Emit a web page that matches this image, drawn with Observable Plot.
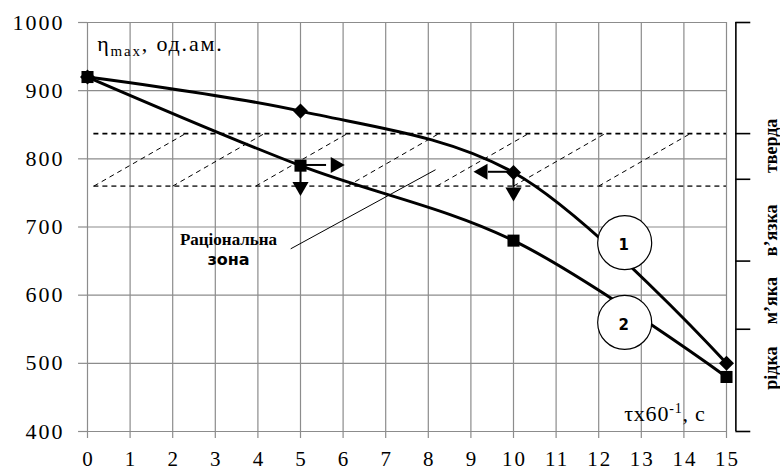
<!DOCTYPE html>
<html><head><meta charset="utf-8">
<script src="https://cdn.jsdelivr.net/npm/d3@7"></script>
<script src="https://cdn.jsdelivr.net/npm/@observablehq/plot@0.6"></script>
<style>
body{margin:0;background:#fff}
</style>
</head><body><div id="chart"></div>
<script>
// ---- data ----
const time = [0, 5, 10, 15];
const series1 = [920, 870, 780, 500];   // curve 1 (diamonds)
const series2 = [920, 790, 680, 480];   // curve 2 (squares)
const xTicks = [0,1,2,3,4,5,6,7,8,9,10,11,12,13,14,15];
const yTicks = [400,500,600,700,800,900,1000];
const zoneTop = 837;
const zoneBottom = 760;
const zoneStart = 0.15;
const zoneEnd = 15;
const hatchStarts = [0.15, 2, 3.95, 6.1, 8.2, 10, 12];
const hatchSpan = 2.15;
const consistencyTicks = [1000, 837, 770, 650, 550, 400];
const consistencyLabels = ["рідка", "м’яка", "в’язка", "тверда"];
const consistencyLabelY = [493, 592, 695, 819];
const curveLabels = ["1", "2"];
const curveLabelX = [12.61, 12.61];
const curveLabelY = [677, 560];
const zoneLabels = ["Раціональна", "зона"];

// ---- tables ----
const rows1 = time.map((t, i) => ({t, v: series1[i]}));
const rows2 = time.map((t, i) => ({t, v: series2[i]}));
const labelRows = curveLabels.map((l, i) => ({l, x: curveLabelX[i], y: curveLabelY[i]}));
const arrowLines = [
  {x1: 5, y1: 791, x2: 5.6, y2: 791},
  {x1: 5, y1: 791, x2: 5, y2: 766},
  {x1: 10, y1: 781, x2: 9.4, y2: 781},
  {x1: 10, y1: 781, x2: 10, y2: 758}
];
const arrowHeads = [
  {x: 5.82, y: 791, r: 90},
  {x: 5, y: 759, r: 180},
  {x: 9.28, y: 781, r: 270},
  {x: 10, y: 751, r: 180}
];
const bracketX = 15.22, bracketTickEnd = 15.57, bracketLabelX = 16.04;
const SERIF = "Liberation Serif";
const SANS = "DejaVu Sans";
const GRID = "#8c8c8c";
const yMin = yTicks[0], xMin = xTicks[0];

const plot = Plot.plot({
  width: 780, height: 470,
  marginLeft: 87, marginRight: 54, marginTop: 22, marginBottom: 39,
  x: {domain: [0, 15], axis: null},
  y: {domain: [400, 1000], axis: null},
  style: {background: "#fff", color: "#000", overflow: "visible", fontFamily: SERIF},
  marks: [
    Plot.gridX(xTicks, {stroke: GRID, strokeOpacity: 1, strokeWidth: 1.2}),
    Plot.gridY(yTicks, {stroke: GRID, strokeOpacity: 1, strokeWidth: 1.2}),
    // tick marks & labels
    Plot.ruleX(xTicks, {y1: yMin, y2: yMin - 10.3, stroke: GRID, strokeWidth: 1.2}),
    Plot.ruleY(yTicks, {x1: xMin, x2: xMin - 0.21, stroke: GRID, strokeWidth: 1.2}),
    Plot.text(xTicks, {x: d => d, y: yMin, text: d => String(d), dy: 28, dx: 1, fontSize: 21, fontFamily: SERIF}),
    Plot.text(yTicks, {x: xMin, y: d => d, text: d => String(d), dx: -23, textAnchor: "end", fontSize: 22, fontFamily: SERIF}),
    // rational zone
    Plot.ruleY([zoneTop], {x1: zoneStart, x2: zoneEnd, stroke: "#000", strokeWidth: 1.6, strokeDasharray: "5,4"}),
    Plot.ruleY([zoneBottom], {x1: zoneStart, x2: zoneEnd, stroke: "#444", strokeWidth: 1.6, strokeDasharray: "5,4"}),
    Plot.link(hatchStarts, {x1: d => d, y1: zoneBottom, x2: d => d + hatchSpan, y2: zoneTop, stroke: "#000", strokeWidth: 1, strokeDasharray: "5,4"}),
    Plot.link([{x1: 4.77, y1: 668, x2: 8.17, y2: 784}], {x1: "x1", y1: "y1", x2: "x2", y2: "y2", stroke: "#000", strokeWidth: 1}),
    Plot.text([zoneLabels[0]], {x: 3.31, y: 681, text: d => d, fontWeight: "bold", fontSize: 17, fontFamily: SERIF}),
    Plot.text([zoneLabels[1]], {x: 3.31, y: 652, text: d => d, fontWeight: "bold", fontSize: 16, fontFamily: SANS}),
    // curves
    Plot.line(rows1, {x: "t", y: "v", curve: "catmull-rom", stroke: "#000", strokeWidth: 3}),
    Plot.line(rows2, {x: "t", y: "v", curve: "catmull-rom", stroke: "#000", strokeWidth: 3}),
    Plot.dot(labelRows, {x: "x", y: "y", r: 27, fill: "#fff", stroke: "#000", strokeWidth: 1.2}),
    Plot.text(labelRows, {x: "x", y: "y", text: "l", fontWeight: "bold", fontSize: 15, fontFamily: SANS, dy: 3}),
    Plot.dot(rows2, {x: "t", y: "v", symbol: "square", r: 6.8, fill: "#000"}),
    Plot.dot(rows1, {x: "t", y: "v", symbol: "square", rotate: 45, r: 6, fill: "#000"}),
    // arrows
    Plot.link(arrowLines, {x1: "x1", y1: "y1", x2: "x2", y2: "y2", stroke: "#000", strokeWidth: 2}),
    Plot.dot(arrowHeads, {x: "x", y: "y", symbol: "triangle", rotate: "r", r: 6, fill: "#000"}),
    // right bracket
    Plot.ruleX([bracketX], {y1: 400, y2: 1000, stroke: "#000", strokeWidth: 1.6}),
    Plot.ruleY(consistencyTicks, {x1: bracketX, x2: bracketTickEnd, stroke: "#000", strokeWidth: 1.6}),
    Plot.text(consistencyLabels, {x: bracketLabelX, y: (d, i) => consistencyLabelY[i], text: d => d, rotate: -90, fontWeight: "bold", fontSize: 18, fontFamily: SERIF}),
    // axis titles
    Plot.text(["ηmax, од.ам."], {x: 0.23, y: 968, text: d => d, textAnchor: "start", fontSize: 22, fontFamily: SERIF}),
    Plot.text(["τx60-1, с"], {x: 14.51, y: 426, text: d => d, textAnchor: "end", fontSize: 22, fontFamily: SERIF})
  ]
});
document.getElementById("chart").append(plot);

const svg = d3.select(plot);
// slightly wider tick numerals as in the reference
svg.selectAll("text").filter(function(){ return /^\d+$/.test(this.textContent) && this.getAttribute("font-size") !== "15"; })
  .style("letter-spacing", "2px");
// rich text for subscripts / superscripts
svg.selectAll("text").filter(function(){ return this.textContent === "ηmax, од.ам."; }).each(function(){
  const t = d3.select(this).style("letter-spacing", "1.8px"); t.text(null);
  t.append("tspan").text("η");
  t.append("tspan").attr("font-size", "15px").attr("dy", "5").text("max");
  t.append("tspan").attr("dy", "-5").text(", од.ам.");
});
svg.selectAll("text").filter(function(){ return this.textContent === "τx60-1, с"; }).each(function(){
  const t = d3.select(this).style("letter-spacing", "0.8px"); t.text(null);
  t.append("tspan").text("τx60");
  t.append("tspan").attr("font-size", "14px").attr("dy", "-8").text("-1");
  t.append("tspan").attr("dy", "8").text(", с");
});
</script>
</body></html>
